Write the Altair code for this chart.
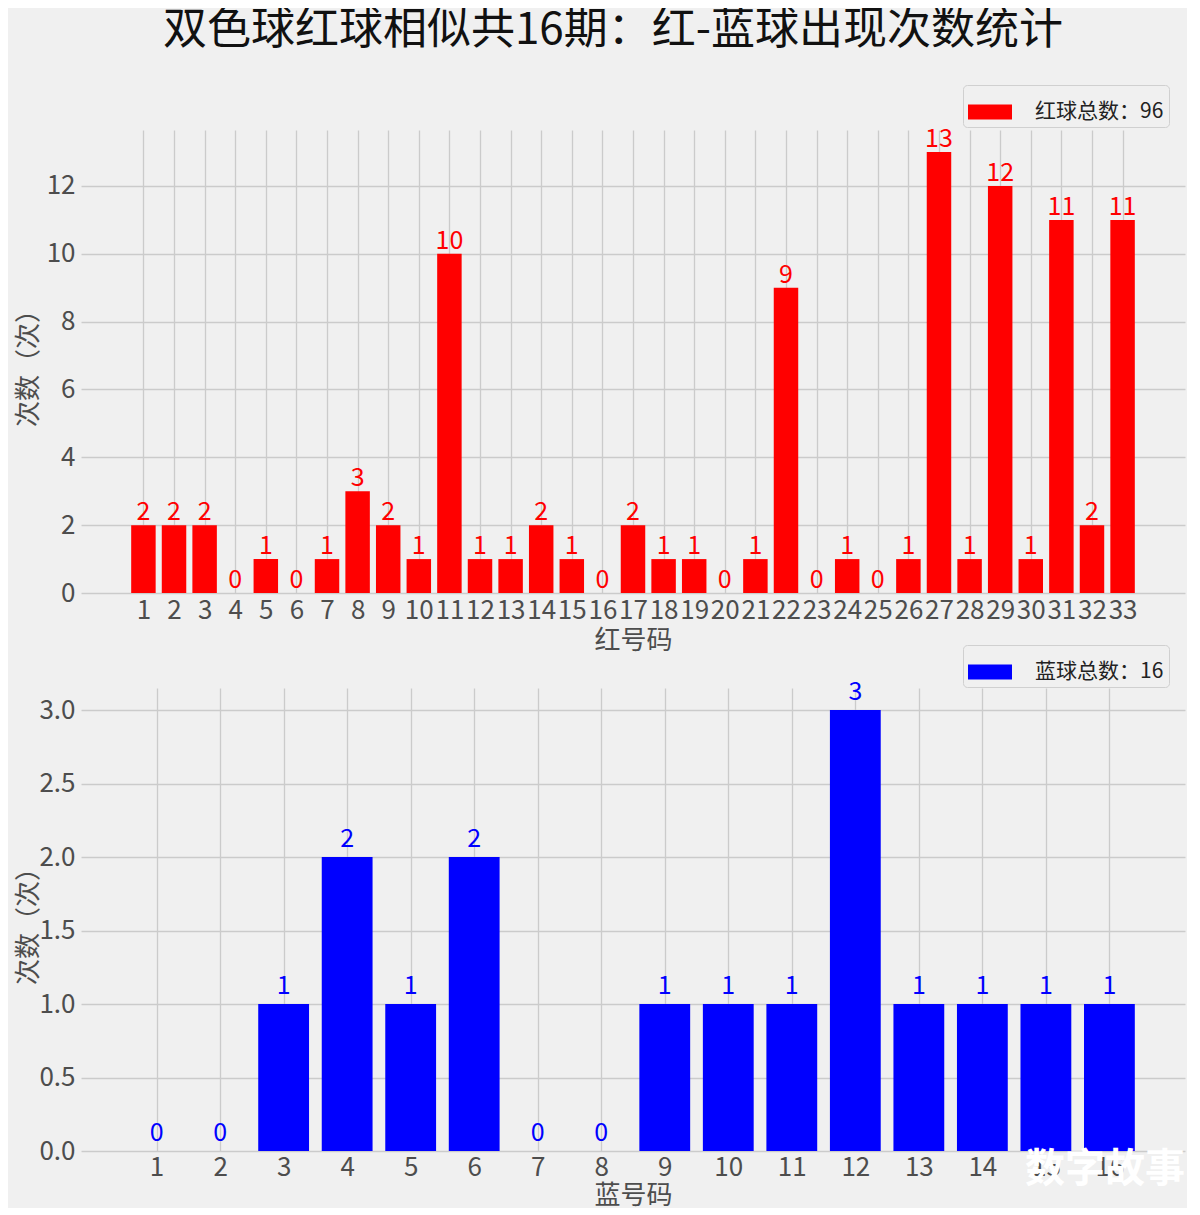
import altair as alt
import pandas as pd

# ---- data ----
red_nums = list(range(1, 34))
red_counts = [2, 2, 2, 0, 1, 0, 1, 3, 2, 1, 10, 1, 1, 2, 1, 0, 2, 1, 1, 0,
              1, 9, 0, 1, 0, 1, 13, 1, 12, 1, 11, 2, 11]
blue_nums = list(range(1, 17))
blue_counts = [0, 0, 1, 2, 1, 2, 0, 0, 1, 1, 1, 3, 1, 1, 1, 1]

red_y_ticks = [0, 2, 4, 6, 8, 10, 12]
blue_y_ticks = [0.0, 0.5, 1.0, 1.5, 2.0, 2.5, 3.0]

title_text = "双色球红球相似共16期：红-蓝球出现次数统计"
red_legend = "红球总数：%d" % sum(red_counts)
blue_legend = "蓝球总数：%d" % sum(blue_counts)

FONT = "Noto Sans CJK SC"
W, H = 1104, 463
LABEL_COLOR = "#4d4d4d"

df_red = pd.DataFrame({"num": red_nums, "count": red_counts, "series": red_legend})
df_blue = pd.DataFrame({"num": blue_nums, "count": blue_counts, "series": blue_legend})


def legend(ly):
    return alt.Legend(
        title=None, orient="none", legendX=882, legendY=ly,
        fillColor="#f0f0f0", strokeColor="#d0d0d0", cornerRadius=4,
        padding=5, symbolType="M-1,-0.34H1V0.34H-1Z", symbolSize=1936,
        symbolStrokeWidth=0, symbolOpacity=1, labelFont=FONT, labelFontSize=21,
        labelColor="#222222", labelOffset=23,
    )


def panel(df, nums, yticks, ydom, xdom, color, xtitle, ly, dy, yfmt, lpad, tpad):
    base = alt.Chart(df)
    xscale = alt.Scale(domain=xdom, nice=False, zero=False)
    yscale = alt.Scale(domain=ydom, nice=False)
    xaxis = alt.Axis(values=nums, format="d", title=xtitle, grid=True,
                     tickSize=0, domain=False, labelPadding=lpad, titlePadding=tpad,
                     labelFlush=False, labelOverlap=False)
    yaxis = alt.Axis(values=yticks, format=yfmt, title="次数（次）", grid=True,
                     tickSize=0, domain=False, labelPadding=6, titleX=-40)
    bars = base.transform_calculate(
        x0="datum.num - 0.4", x1="datum.num + 0.4"
    ).mark_bar(color=color, opacity=1).encode(
        x=alt.X("x0:Q", scale=xscale, axis=xaxis),
        x2="x1:Q",
        y=alt.Y("count:Q", scale=yscale, axis=yaxis),
        y2=alt.datum(0),
        color=alt.Color("series:N", scale=alt.Scale(range=[color]), legend=legend(ly)),
    )
    labels = base.mark_text(
        color=color, font=FONT, fontSize=25, baseline="alphabetic", dy=dy
    ).encode(
        x=alt.X("num:Q", scale=xscale, axis=xaxis, title=xtitle),
        y=alt.Y("count:Q", scale=yscale, axis=yaxis, title="次数（次）"),
        text=alt.Text("count:Q"),
    )
    return alt.layer(bars, labels).properties(width=W, height=H)


top = panel(df_red, red_nums, red_y_ticks, [0, 13.65], [-1.04, 35.04],
            "#ff0000", "红号码", -45, -5, "d", 4, 4)

bottom_bars = panel(df_blue, blue_nums, blue_y_ticks, [0, 3.15], [-0.19, 17.19],
                    "#0000ff", "蓝号码", -43, -10, ".1f", 3, 2)

watermark = alt.Chart(pd.DataFrame({"t": ["数字故事"]})).mark_text(
    font=FONT, fontSize=40, fontWeight="bold", color="#ffffff",
    align="center", baseline="middle"
).encode(x=alt.value(1024), y=alt.value(482), text="t:N")

bottom = alt.layer(bottom_bars, watermark).properties(width=W, height=H)

chart = alt.vconcat(top, bottom, spacing=95, bounds="flush").properties(
    title=alt.TitleParams(title_text, font=FONT, fontSize=44, fontWeight="normal",
                          color="#111111", anchor="middle", offset=32, dx=13),
    background="#f0f0f0",
    padding={"left": 7, "top": 0, "right": 2, "bottom": 0},
).configure_view(stroke=None).configure_axis(
    labelFont=FONT, labelFontSize=26, labelColor=LABEL_COLOR,
    titleFont=FONT, titleFontSize=26, titleColor=LABEL_COLOR, titleFontWeight="normal",
    gridColor="#cbcbcb", gridWidth=1.3,
).resolve_scale(color="independent")

chart.save("out.html", embed_options={"renderer": "svg", "actions": False})
